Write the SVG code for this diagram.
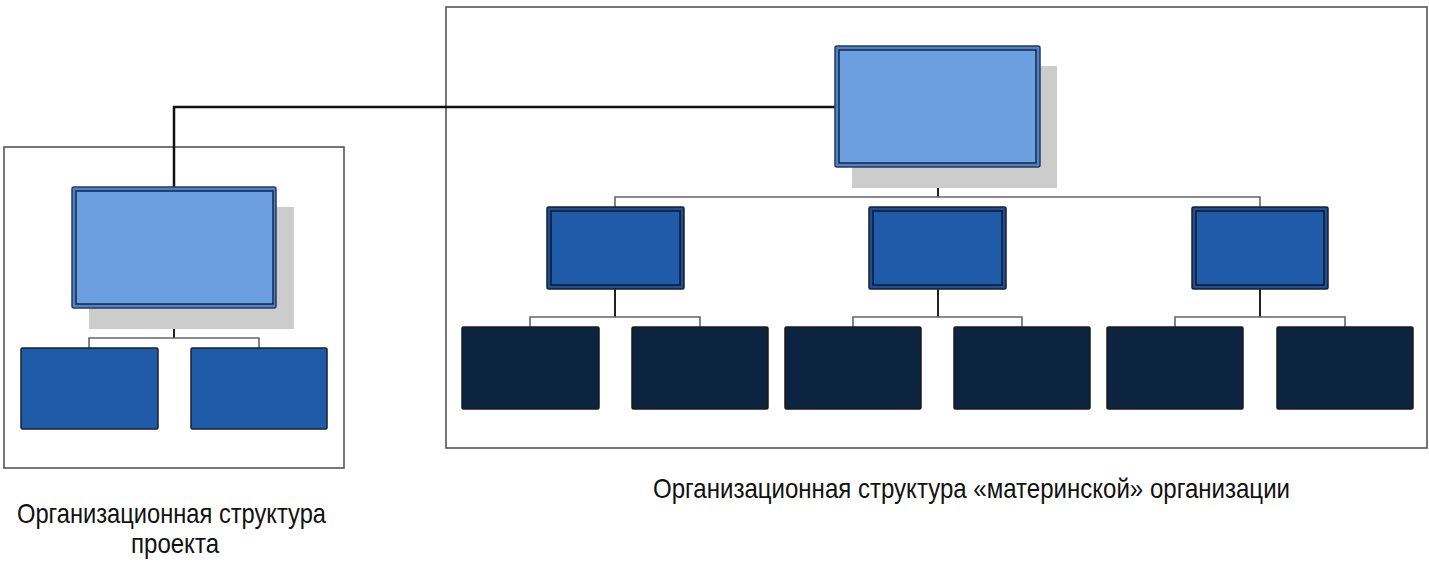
<svg xmlns="http://www.w3.org/2000/svg" width="1429" height="573" viewBox="0 0 1429 573">
<style>
.frame{fill:#fff;stroke:#555;stroke-width:1.6}
.shadow{fill:#cccccc}
.topo{fill:#4d82cc;stroke:#2a3a55;stroke-width:1.5}
.topi{fill:#6b9fe0;stroke:#1a2740;stroke-width:1.5}
.mido{fill:#1d4f94;stroke:#1a1f2a;stroke-width:1.5}
.midi{fill:#1f5ba8;stroke:#111a2a;stroke-width:1.5}
.leaf{fill:#0d2440;stroke:#1a1a1a;stroke-width:1.5}
.sub{fill:#1f5ba8;stroke:#1a1f2a;stroke-width:1.5}
.stem{fill:none;stroke:#222;stroke-width:2}
.br{fill:none;stroke:#666;stroke-width:1.6}
.link{fill:none;stroke:#111;stroke-width:2.5}
.lbl{font-family:"Liberation Sans",Arial,sans-serif;font-size:28px;fill:#111}
</style>
<g id="frame-project"><rect class="frame" x="4" y="147" width="340" height="321"/></g>
<g id="frame-parent"><rect class="frame" x="446" y="7" width="981" height="441"/></g>
<g id="connectors">
<path class="link" d="M174 187 V107 H836"/>
<path class="stem" d="M174 308 V338"/>
<path class="br" d="M89 348 V338 H259 V348"/>
<path class="stem" d="M938 167 V197"/>
<path class="br" d="M615 207 V197 H1260 V207"/>
<path class="stem" d="M615 289 V317"/>
<path class="br" d="M530 327 V317 H700 V327"/>
<path class="stem" d="M938 289 V317"/>
<path class="br" d="M853 327 V317 H1022 V327"/>
<path class="stem" d="M1260 289 V317"/>
<path class="br" d="M1175 327 V317 H1345 V327"/>
</g>
<g id="project-head">
<rect class="shadow" x="89" y="207" width="205" height="122"/>
<rect class="topo" x="72" y="187" width="204" height="121" rx="2"/>
<rect class="topi" x="76" y="191" width="197" height="113"/>
</g>
<g id="project-sub-1"><rect class="sub" x="21" y="348" width="137" height="81" rx="1.5"/></g>
<g id="project-sub-2"><rect class="sub" x="191" y="348" width="136" height="81" rx="1.5"/></g>
<g id="parent-head">
<rect class="shadow" x="852" y="66" width="205" height="122"/>
<rect class="topo" x="835" y="46" width="205" height="121" rx="2"/>
<rect class="topi" x="839" y="50" width="197" height="113"/>
</g>
<g id="parent-div-1"><rect class="mido" x="547" y="207" width="137" height="82" rx="1.5"/><rect class="midi" x="551" y="211" width="129" height="74"/></g>
<g id="parent-div-2"><rect class="mido" x="869" y="207" width="137" height="82" rx="1.5"/><rect class="midi" x="873" y="211" width="129" height="74"/></g>
<g id="parent-div-3"><rect class="mido" x="1192" y="207" width="136" height="82" rx="1.5"/><rect class="midi" x="1196" y="211" width="128" height="74"/></g>
<g id="parent-unit-1"><rect class="leaf" x="462" y="327" width="137" height="82" rx="1.5"/></g>
<g id="parent-unit-2"><rect class="leaf" x="632" y="327" width="136" height="82" rx="1.5"/></g>
<g id="parent-unit-3"><rect class="leaf" x="785" y="327" width="136" height="82" rx="1.5"/></g>
<g id="parent-unit-4"><rect class="leaf" x="954" y="327" width="136" height="82" rx="1.5"/></g>
<g id="parent-unit-5"><rect class="leaf" x="1107" y="327" width="136" height="82" rx="1.5"/></g>
<g id="parent-unit-6"><rect class="leaf" x="1277" y="327" width="136" height="82" rx="1.5"/></g>
<g id="labels">
<text class="lbl" x="17" y="523" textLength="309" lengthAdjust="spacingAndGlyphs">Организационная структура</text>
<text class="lbl" x="131" y="553" textLength="88" lengthAdjust="spacingAndGlyphs">проекта</text>
<text class="lbl" x="653" y="498" textLength="637" lengthAdjust="spacingAndGlyphs">Организационная структура «материнской» организации</text>
</g>
</svg>
